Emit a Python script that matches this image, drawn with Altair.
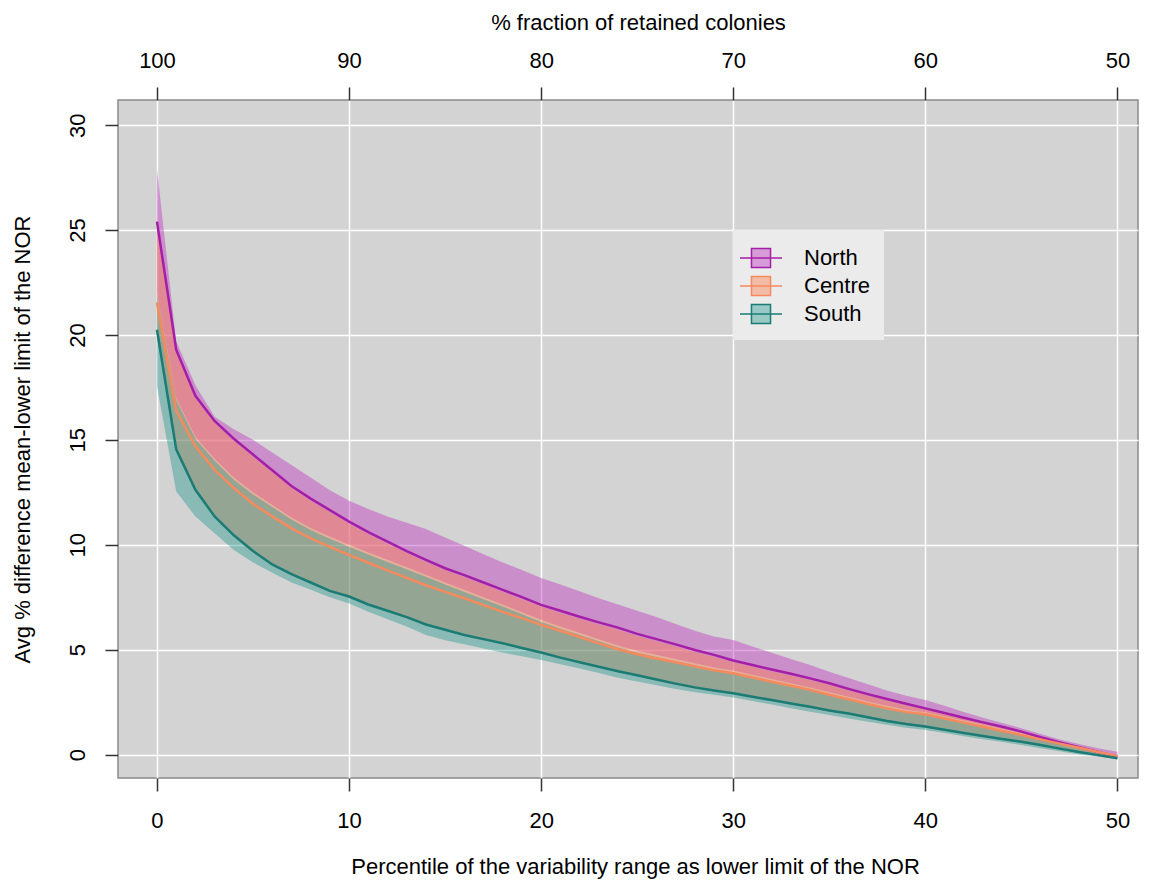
import altair as alt
import pandas as pd

x_vals = list(range(51))

north_mean = [25.4, 19.3, 17.1, 15.9, 15.05, 14.3, 13.55, 12.8, 12.2, 11.65, 11.1,
              10.6, 10.15, 9.7, 9.28, 8.88, 8.55, 8.2, 7.85, 7.5, 7.13,
              6.85, 6.57, 6.3, 6.05, 5.75, 5.5, 5.25, 4.98, 4.75, 4.48,
              4.27, 4.05, 3.85, 3.63, 3.4, 3.13, 2.88, 2.65, 2.42, 2.2,
              1.98, 1.75, 1.53, 1.32, 1.09, 0.82, 0.58, 0.35, 0.12, -0.1]
north_hi = [27.9, 19.7, 17.6, 16.1, 15.5, 15.0, 14.4, 13.8, 13.2, 12.6, 12.1,
            11.7, 11.35, 11.05, 10.75, 10.35, 9.95, 9.55, 9.15, 8.8, 8.41,
            8.1, 7.78, 7.45, 7.15, 6.85, 6.55, 6.22, 5.9, 5.62, 5.46,
            5.15, 4.85, 4.55, 4.27, 3.95, 3.65, 3.35, 3.05, 2.8, 2.6,
            2.32, 2.03, 1.75, 1.5, 1.25, 0.98, 0.72, 0.5, 0.3, 0.13]
north_lo = [22.0, 17.0, 15.15, 14.1, 13.2, 12.5, 11.9, 11.3, 10.8, 10.38, 10.0,
            9.63, 9.28, 8.93, 8.57, 8.2, 7.85, 7.5, 7.15, 6.78, 6.42,
            6.1, 5.8, 5.5, 5.2, 4.95, 4.75, 4.55, 4.35, 4.15, 4.0,
            3.8, 3.6, 3.4, 3.2, 2.98, 2.75, 2.53, 2.32, 2.13, 2.02,
            1.82, 1.62, 1.42, 1.22, 1.02, 0.8, 0.58, 0.38, 0.17, -0.03]

centre_mean = [21.55, 16.4, 14.69, 13.57, 12.7, 11.95, 11.35, 10.78, 10.3, 9.9, 9.52,
               9.14, 8.78, 8.42, 8.07, 7.75, 7.45, 7.12, 6.8, 6.5, 6.18,
               5.9, 5.6, 5.3, 5.02, 4.78, 4.58, 4.4, 4.2, 4.02, 3.87,
               3.67, 3.47, 3.28, 3.08, 2.85, 2.63, 2.41, 2.2, 2.02, 1.92,
               1.72, 1.52, 1.32, 1.12, 0.93, 0.72, 0.52, 0.32, 0.12, -0.07]
centre_hi = [25.3, 19.2, 17.0, 15.8, 14.95, 14.2, 13.45, 12.7, 12.1, 11.55, 11.0,
             10.5, 10.05, 9.6, 9.18, 8.78, 8.45, 8.1, 7.75, 7.4, 7.05,
             6.75, 6.47, 6.2, 5.95, 5.65, 5.4, 5.15, 4.9, 4.65, 4.4,
             4.18, 3.97, 3.77, 3.55, 3.32, 3.06, 2.81, 2.58, 2.35, 2.14,
             1.92, 1.7, 1.48, 1.27, 1.05, 0.79, 0.55, 0.33, 0.11, -0.08]
centre_lo = [19.9, 14.45, 12.55, 11.28, 10.38, 9.63, 9.0, 8.54, 8.14, 7.74, 7.47,
             7.1, 6.8, 6.5, 6.15, 5.9, 5.65, 5.45, 5.25, 5.03, 4.8,
             4.57, 4.35, 4.13, 3.92, 3.73, 3.53, 3.33, 3.15, 3.0, 2.87,
             2.7, 2.55, 2.38, 2.23, 2.05, 1.9, 1.73, 1.55, 1.4, 1.28,
             1.13, 0.98, 0.83, 0.69, 0.56, 0.4, 0.23, 0.07, -0.08, -0.22]

south_mean = [20.25, 14.55, 12.62, 11.35, 10.45, 9.7, 9.06, 8.6, 8.2, 7.8, 7.53,
              7.15, 6.85, 6.55, 6.2, 5.95, 5.7, 5.5, 5.3, 5.08, 4.86,
              4.62, 4.4, 4.18, 3.97, 3.78, 3.58, 3.38, 3.2, 3.05, 2.92,
              2.75, 2.6, 2.43, 2.28, 2.1, 1.95, 1.78, 1.6, 1.45, 1.33,
              1.18, 1.03, 0.88, 0.74, 0.61, 0.45, 0.28, 0.12, -0.03, -0.18]
south_hi = [21.9, 16.9, 15.05, 14.0, 13.1, 12.4, 11.8, 11.2, 10.7, 10.28, 9.9,
            9.53, 9.18, 8.83, 8.47, 8.1, 7.75, 7.4, 7.05, 6.68, 6.32,
            6.0, 5.7, 5.4, 5.1, 4.85, 4.65, 4.45, 4.25, 4.05, 3.9,
            3.7, 3.5, 3.3, 3.1, 2.88, 2.65, 2.43, 2.22, 2.03, 1.92,
            1.72, 1.52, 1.32, 1.12, 0.92, 0.7, 0.48, 0.28, 0.07, -0.13]
south_lo = [17.55, 12.54, 11.35, 10.55, 9.75, 9.15, 8.67, 8.2, 7.85, 7.5, 7.2,
            6.8, 6.45, 6.1, 5.7, 5.45, 5.25, 5.05, 4.85, 4.68, 4.5,
            4.3, 4.1, 3.88, 3.66, 3.48, 3.3, 3.12, 2.97, 2.85, 2.72,
            2.55, 2.38, 2.2, 2.04, 1.88, 1.72, 1.56, 1.42, 1.28, 1.17,
            1.02, 0.87, 0.73, 0.6, 0.45, 0.3, 0.15, 0.0, -0.1, -0.23]

regions = ["North", "Centre", "South"]
line_colors = ["#A51EA8", "#F58A5E", "#1B7C76"]
fill_colors = ["rgba(190,60,190,0.45)", "rgba(250,130,85,0.45)", "rgba(30,150,138,0.4)"]

bottom_ticks = [0, 10, 20, 30, 40, 50]
y_ticks = [0, 5, 10, 15, 20, 25, 30]

rows = []
for name, m, lo, hi in [("North", north_mean, north_lo, north_hi),
                        ("Centre", centre_mean, centre_lo, centre_hi),
                        ("South", south_mean, south_lo, south_hi)]:
    for xv, a, b, c in zip(x_vals, m, lo, hi):
        rows.append({"x": xv, "region": name, "mean": a, "lo": b, "hi": c})
df = pd.DataFrame(rows)

FONT = "Liberation Sans"
xscale = alt.Scale(domain=[-2.03, 51.07], nice=False, zero=False)
yscale = alt.Scale(domain=[-1.12, 31.2], nice=False, zero=False)

symbol_path = "M-1.5,0H1.5M-0.68,-0.68H0.68V0.68H-0.68Z"
legend = alt.Legend(title=None, orient="none", legendX=615, legendY=130,
                    fillColor="#EBEBEB", padding=13, symbolType=symbol_path,
                    symbolSize=784, symbolStrokeWidth=1.5, labelFontSize=22,
                    labelFont=FONT, labelColor="black", labelOffset=28, rowPadding=0)

fill_enc = alt.Fill("region:N", scale=alt.Scale(domain=regions, range=fill_colors), legend=legend)
stroke_enc = alt.Stroke("region:N", scale=alt.Scale(domain=regions, range=line_colors), legend=legend)

bottom_axis = alt.Axis(values=bottom_ticks, orient="bottom", grid=True, gridColor="white",
                       gridWidth=1.5, tickSize=13, tickColor="#333333", tickWidth=1.5,
                       domain=False, labelFontSize=22, labelFont=FONT, labelColor="black",
                       labelPadding=29, labelBaseline="middle",
                       title="Percentile of the variability range as lower limit of the NOR",
                       titleFont=FONT, titleFontSize=22, titleFontWeight="normal",
                       titleColor="black", titleX=517, titleY=88, titleBaseline="middle")
top_axis = alt.Axis(values=bottom_ticks, orient="top", grid=False, tickSize=13,
                    tickColor="#333333", tickWidth=1.5, domain=False,
                    labelExpr="100 - datum.value", labelFontSize=22, labelFont=FONT,
                    labelColor="black", labelPadding=27, labelBaseline="middle",
                    title="% fraction of retained colonies", titleFont=FONT,
                    titleFontSize=22, titleFontWeight="normal", titleColor="black",
                    titleX=520, titleY=-78, titleBaseline="middle")
y_axis = alt.Axis(values=y_ticks, orient="left", grid=True, gridColor="white", gridWidth=1.5,
                  tickSize=13, tickColor="#333333", tickWidth=1.5, domain=False,
                  labelAngle=270, labelAlign="center", labelBaseline="alphabetic",
                  labelPadding=21, labelFontSize=22, labelFont=FONT, labelColor="black",
                  title="Avg % difference mean-lower limit of the NOR", titleFont=FONT,
                  titleFontSize=22, titleFontWeight="normal", titleColor="black",
                  titleAngle=270, titleX=-96, titleY=339, titleBaseline="middle")

base = alt.Chart(df)

def area_layer(name, axis):
    return base.transform_filter(alt.datum.region == name).mark_area().encode(
        x=alt.X("x:Q", scale=xscale, axis=axis),
        y=alt.Y("lo:Q", scale=yscale, axis=y_axis),
        y2=alt.Y2("hi:Q"),
        fill=fill_enc,
    )

a_n = area_layer("North", bottom_axis)
a_c = area_layer("Centre", None)
a_s = area_layer("South", None)

lines = base.mark_line(strokeWidth=2.5).encode(
    x=alt.X("x:Q", scale=xscale, axis=top_axis),
    y=alt.Y("mean:Q", scale=yscale, axis=y_axis),
    stroke=stroke_enc,
)

chart = alt.layer(a_n, a_c, a_s, lines).resolve_axis(x="independent").properties(
    width=1020, height=678,
    padding={"left": 118, "top": 100, "right": 12, "bottom": 116},
    autosize=alt.AutoSizeParams(type="none"),
    background="white",
).configure_view(fill="#D3D3D3", stroke="#8A8A8A", strokeWidth=1.5)

chart.save("out.html", embed_options={"renderer": "svg", "actions": False})
